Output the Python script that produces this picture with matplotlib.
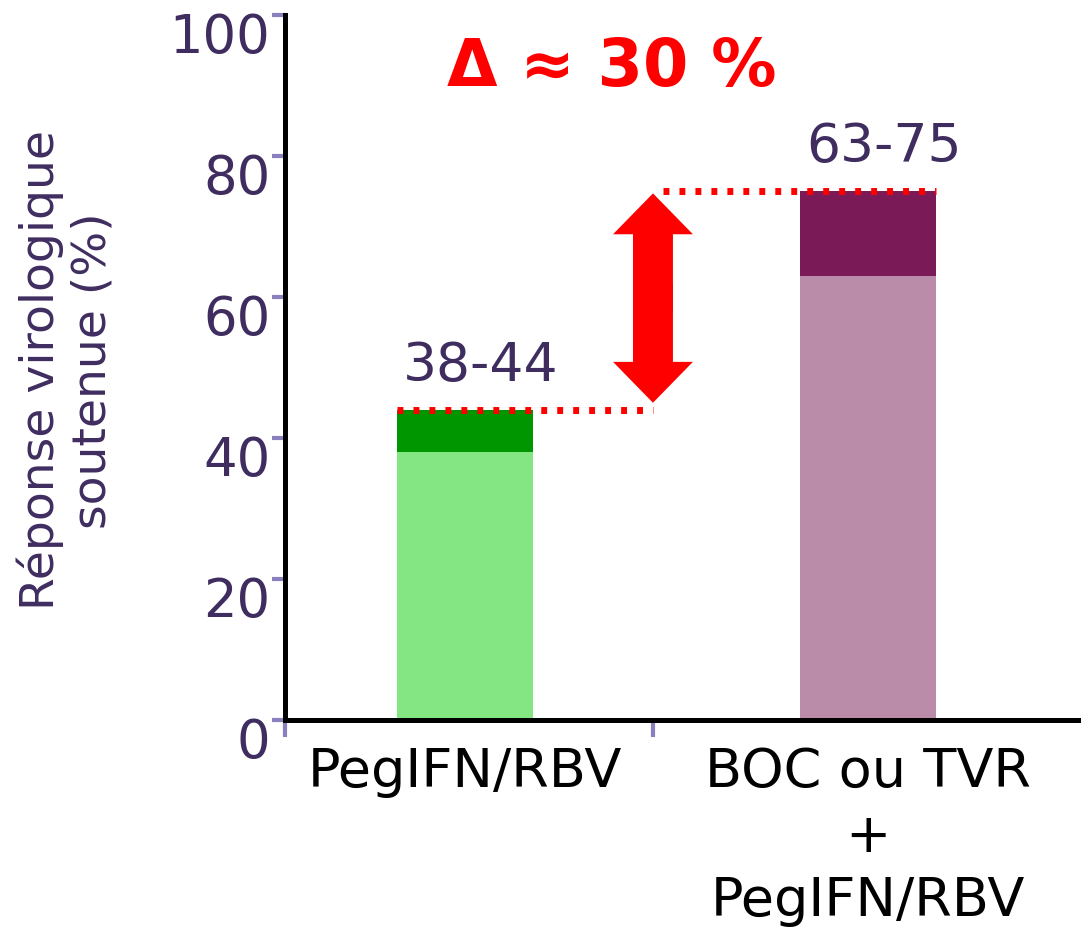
import numpy as np
import matplotlib.pyplot as plt
from matplotlib.patches import FancyArrow
import matplotlib.transforms as mtransforms

# SVR ranges per regimen (low and high end of the reported range, %)
groups = ["PegIFN/RBV", "BOC ou TVR\n+\nPegIFN/RBV"]
svr_low = [38, 63]
svr_high = [44, 75]
range_labels = ["38-44", "63-75"]
yticks = [0, 20, 40, 60, 80, 100]

light_cols = ["#83e683", "#bb8ca9"]
dark_cols = ["#009600", "#7a1a56"]
txt_col = "#3f2d60"
tick_col = "#8b80be"
red = "#ff0000"

fig = plt.figure(figsize=(10.81, 9.27), dpi=100)
ax = fig.add_axes([0.2637, 0.2233, 0.7363, 0.7605])

x = np.arange(len(groups))
w = 0.337
low = np.array(svr_low)
high = np.array(svr_high)
ax.bar(x, low, width=w, color=light_cols, linewidth=0)
ax.bar(x, high - low, bottom=low, width=w, color=dark_cols, linewidth=0)

# range labels above the bars
for xi, hi, lab in zip(x, high, range_labels):
    ax.annotate(lab, (xi, hi), xytext=(11, 13), textcoords="offset points",
                ha="center", va="bottom", fontsize=38.5, color=txt_col)

# dotted reference lines and double arrow between the two upper bounds
arrow_x = 0.466
dots = (0, (0.85, 1.45))
ax.plot([x[0] - w / 2, arrow_x], [high[0], high[0]], color=red, lw=5,
        linestyle=dots, solid_capstyle="butt", dash_capstyle="butt")
ax.plot([arrow_x + 0.025, x[1] + w / 2], [high[1], high[1]], color=red, lw=5,
        linestyle=dots, solid_capstyle="butt", dash_capstyle="butt")
y0, y1 = high[0] + 1.0, high[1] - 0.3
mid = (y0 + y1) / 2
for end, start in ((y0, mid + 2), (y1, mid - 2)):
    ax.add_patch(FancyArrow(arrow_x, start, 0, end - start, width=0.099,
                            head_width=0.198, head_length=5.8,
                            length_includes_head=True, color=red, lw=0))

ax.text(0.41, 0.925, "Δ ≈ 30 %", transform=ax.transAxes, ha="center",
        va="center", fontsize=47, fontweight="bold", color=red)

ax.set_xlim(-0.446, 1.527)
ax.set_ylim(0, 100)
ax.set_yticks(yticks)
ax.set_yticklabels([str(t) for t in yticks], fontsize=38, color=txt_col)
ax.set_xticks(x)
ax.set_xticklabels(groups, fontsize=39, color="black", linespacing=1.3)
ax.set_xticks([-0.446, arrow_x], minor=True)

ax.tick_params(axis="y", direction="out", length=9.5, width=3, color=tick_col, pad=1)
ax.tick_params(axis="x", which="major", length=0, pad=19)
ax.tick_params(axis="x", which="minor", direction="out", length=12, width=3, color=tick_col)

# numbers sit a little below their tick marks
shift = mtransforms.ScaledTranslation(0, -17 / 100, fig.dpi_scale_trans)
for lab in ax.yaxis.get_majorticklabels():
    lab.set_transform(lab.get_transform() + shift)

for side in ("top", "right"):
    ax.spines[side].set_visible(False)
for side in ("left", "bottom"):
    ax.spines[side].set_linewidth(3.6)
    ax.spines[side].set_color("black")

ax.set_ylabel("Réponse virologique\nsoutenue (%)", fontsize=34, color=txt_col,
              linespacing=1.2, va="center")
ax.yaxis.set_label_coords(-0.275, 0.496)

fig.savefig("out.png", dpi=100)
